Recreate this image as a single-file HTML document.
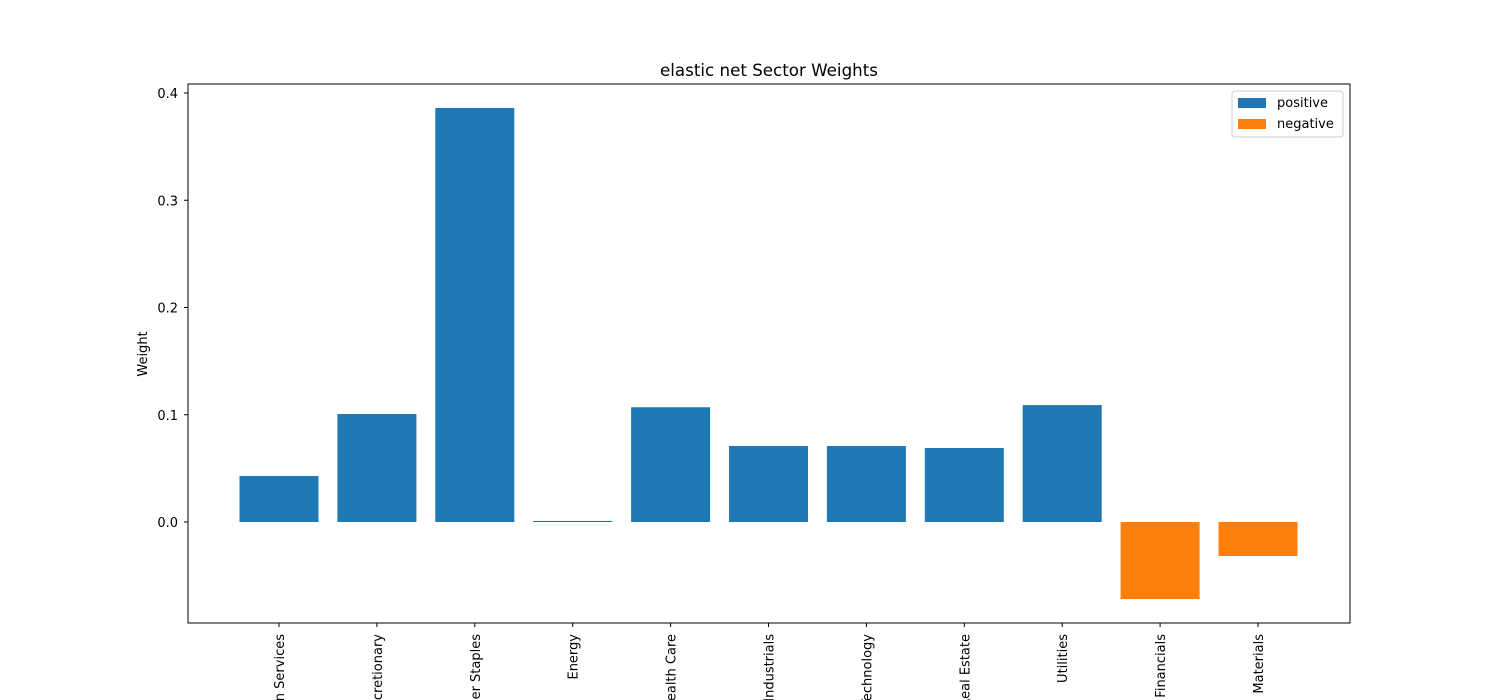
<!DOCTYPE html>
<html><head><meta charset="utf-8"><style>
html,body{margin:0;background:#fff;width:1500px;height:700px;overflow:hidden;}
svg{font-family:"DejaVu Sans","Liberation Sans",sans-serif;display:block;}
</style></head><body>
<svg id="chart" width="1500" height="700" viewBox="0 0 1500 700">
<rect width="1500" height="700" fill="#fff"/>
<text x="769" y="76" font-size="16.7" text-anchor="middle">elastic net Sector Weights</text>
<text x="0" y="0" font-size="13" text-anchor="middle" transform="translate(147,354) rotate(-90)">Weight</text>
<g id="bars"></g>
<g id="yticks"></g>
<g id="xticks"></g>
<rect x="188" y="84" width="1162" height="539" fill="none" stroke="#000" stroke-width="1"/>
<g>
<rect x="1232" y="91" width="111" height="46" rx="3" fill="#fff" stroke="#ccc"/>
<g><rect x="1238" y="98" width="28" height="10" fill="#1f77b4"/><text x="1277" y="107" font-size="13">positive</text></g>
<g><rect x="1238" y="119" width="28" height="10" fill="#ff7f0e"/><text x="1277" y="128" font-size="13">negative</text></g>
</g>
</svg>
<script>
const categories=["Communication Services","Consumer Discretionary","Consumer Staples","Energy","Health Care","Industrials","Information Technology","Real Estate","Utilities","Financials","Materials"];
const values=[0.0429,0.1007,0.386,0.001,0.107,0.0709,0.0709,0.069,0.109,-0.0718,-0.0317];
const yTicks=[0.0,0.1,0.2,0.3,0.4];
const yTickLabels=["0.0","0.1","0.2","0.3","0.4"];
const NS="http://www.w3.org/2000/svg";
const y=v=>522-v*1072.5;
const x=i=>279+97.9*i;
const bw=79;
const bars=document.getElementById('bars'),yt=document.getElementById('yticks'),xt=document.getElementById('xticks');
function mk(t,a){const e=document.createElementNS(NS,t);for(const k in a)e.setAttribute(k,a[k]);return e;}
values.forEach((v,i)=>{
 const r=mk('rect',{x:x(i)-bw/2,y:Math.min(y(v),y(0)),width:bw,height:Math.max(Math.abs(y(v)-y(0)),0.8),fill:v>=0?'#1f77b4':'#ff7f0e'});
 
 
 bars.appendChild(r);
 const tk=mk('line',{x1:x(i),x2:x(i),y1:623,y2:627,stroke:'#000'});
 
 
 xt.appendChild(tk);
 const t=mk('text',{x:0,y:0,'font-size':13,'text-anchor':'end',transform:`translate(${x(i)+5},634) rotate(-90)`});
 t.textContent=categories[i];
 
 
 xt.appendChild(t);
});
yTicks.forEach((v,i)=>{
 const tk=mk('line',{x1:184,x2:188,y1:y(v),y2:y(v),stroke:'#000'});
 
 
 yt.appendChild(tk);
 const t=mk('text',{x:178,y:y(v)+5,'font-size':13,'text-anchor':'end'});
 t.textContent=yTickLabels[i];
 
 
 yt.appendChild(t);
});
</script>
</body></html>
